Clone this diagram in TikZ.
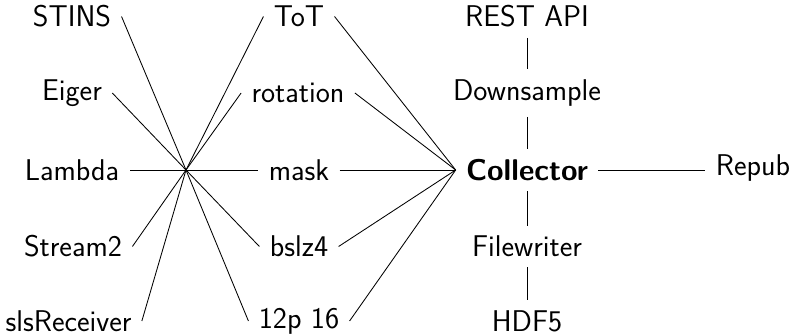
\documentclass[tikz,border=0pt]{standalone}
\begin{document}
\begin{tikzpicture}[x=1pt,y=-1pt,
  lbl/.style={font=\fontsize{30}{36}\selectfont\sffamily, inner sep=10pt},
  every path/.style={line width=0.85pt}]
\useasboundingbox (0,0) rectangle (793,334);
% left column
\node[lbl] (stins) at (72,16.5) {STINS};
\node[lbl] (eiger) at (72,93) {Eiger};
\node[lbl] (lambda) at (72,170) {Lambda};
\node[lbl] (stream) at (73,246.5) {Stream2};
\node[lbl] (sls) at (68.5,321) {slsReceiver};
% middle column
\node[lbl] (tot) at (299,16.5) {ToT};
\node[lbl] (rot) at (298,93) {rotation};
\node[lbl] (mask) at (299,170) {mask};
\node[lbl] (bslz) at (299,246.5) {bslz4};
\node[lbl] (p16) at (299,321) {12p 16};
% right column
\node[lbl] (rest) at (527,16.5) {REST API};
\node[lbl] (down) at (527,93) {Downsample};
\node[lbl, font=\fontsize{30}{36}\selectfont\sffamily\bfseries] (coll) at (527,170) {Collector};
\node[lbl] (filew) at (527,246.5) {Filewriter};
\node[lbl] (hdf) at (527,321) {HDF5};
\node[lbl] (repub) at (753,168) {Repub};
\coordinate (hub) at (186,170);
% connectors
\foreach \n in {stins,eiger,lambda,stream,sls} \draw (hub) -- (\n.east);
\foreach \n in {tot,rot,mask,bslz,p16} {\draw (hub) -- (\n.west); \draw (\n.east) -- (coll.west);}
\draw (rest) -- (down);
\draw (down) -- (coll);
\draw (coll) -- (filew);
\draw (filew) -- (hdf);
\draw (coll.east) -- (repub.west |- coll.east);
\end{tikzpicture}
\end{document}
